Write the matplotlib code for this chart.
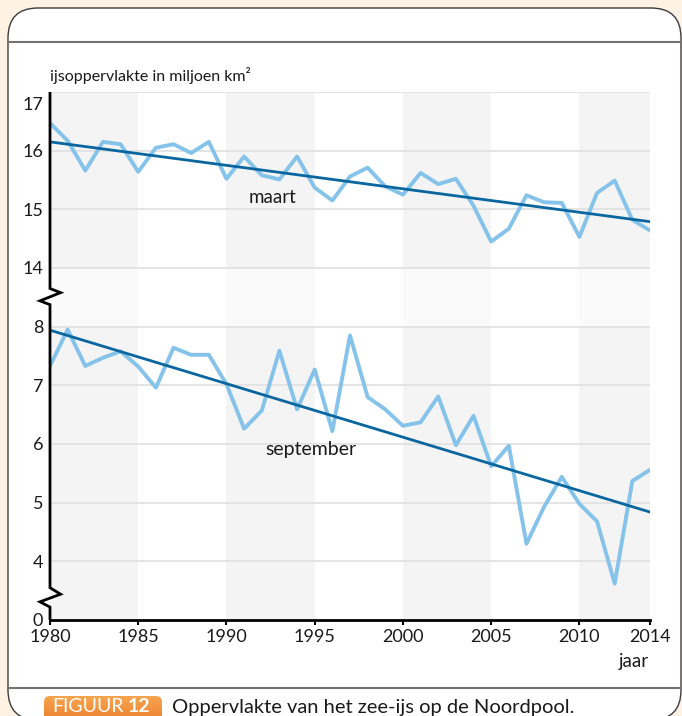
import numpy as np
import matplotlib
matplotlib.use('Agg')
import matplotlib.pyplot as plt
from matplotlib.patches import FancyBboxPatch, Rectangle
from matplotlib.colors import LinearSegmentedColormap
from matplotlib.transforms import ScaledTranslation

plt.rcParams['font.family'] = ['Lato', 'DejaVu Sans']

# gegevens
jaren = list(range(1980, 2015))
maart = [16.47, 16.17, 15.66, 16.15, 16.11, 15.64, 16.05, 16.11, 15.96, 16.15,
         15.52, 15.90, 15.58, 15.51, 15.90, 15.37, 15.15, 15.56, 15.71, 15.39,
         15.25, 15.62, 15.43, 15.52, 15.06, 14.45, 14.67, 15.24, 15.12, 15.11,
         14.53, 15.28, 15.49, 14.82, 14.64]
september = [7.33, 7.95, 7.33, 7.47, 7.58, 7.32, 6.96, 7.64, 7.52, 7.52,
             7.02, 6.26, 6.57, 7.59, 6.59, 7.27, 6.22, 7.85, 6.80, 6.59,
             6.31, 6.37, 6.81, 5.98, 6.48, 5.62, 5.97, 4.30, 4.93, 5.44,
             4.98, 4.68, 3.62, 5.37, 5.56]
trend_jaren = [1980, 2014]
trend_maart = [16.15, 14.79]
trend_september = [7.94, 4.84]
x_ticks = [1980, 1985, 1990, 1995, 2000, 2005, 2010, 2014]
y_ticks = [0, 4, 5, 6, 7, 8, 14, 15, 16, 17]
grijze_banden = [(1980, 1985), (1990, 1995), (2000, 2005), (2010, 2014)]

lichtblauw = '#85c3ea'
donkerblauw = '#0a669e'
grijs = '#f4f4f4'
tekst = '#1a1a1a'


def naar_as(v):
    # gebroken y-as: 14..17 komt op 9..12, 0 komt op 3
    v = np.asarray(v, dtype=float)
    return np.where(v >= 14, v - 5, np.maximum(v, 3))


fig = plt.figure(figsize=(6.82, 7.16), dpi=100)
fig.patch.set_facecolor('#fdf2e4')

# achtergrond / kaart in pixelcoordinaten
bg = fig.add_axes([0, 0, 1, 1])
bg.set_xlim(0, 682)
bg.set_ylim(716, 0)
bg.axis('off')
kaart = FancyBboxPatch((8, 8), 673, 712, boxstyle='round,pad=0,rounding_size=30',
                       facecolor='white', edgecolor='#3c3c3c', linewidth=1.0, zorder=1)
bg.add_patch(kaart)
bg.plot([8, 682], [42, 42], color='#727272', lw=1.5, zorder=2)
bg.plot([8, 682], [688, 688], color='#727272', lw=1.5, zorder=2)

# label "FIGUUR 12"
badge = FancyBboxPatch((44, 696), 118, 30, boxstyle='round,pad=0,rounding_size=6',
                       facecolor='none', edgecolor='none', zorder=2)
bg.add_patch(badge)
cmap = LinearSegmentedColormap.from_list('oranje', ['#f6a54f', '#ec7a28'])
verloop = np.linspace(0, 1, 50).reshape(-1, 1)
im = bg.imshow(verloop, cmap=cmap, extent=[44, 162, 726, 696], aspect='auto', zorder=3)
im.set_clip_path(badge)
bg.set_xlim(0, 682)
bg.set_ylim(716, 0)
bg.text(52, 707, 'FIGUUR', color='white', fontsize=14, va='center',
        fontweight='normal', zorder=4)
bg.text(128, 707, '12', color='white', fontsize=14, va='center',
        fontweight='bold', zorder=4)
bg.text(172, 707, 'Oppervlakte van het zee-ijs op de Noordpool.', fontsize=14.5,
        va='center', color=tekst, zorder=4)

# as-titels
bg.text(50, 76, 'ijsoppervlakte in miljoen km²', fontsize=11.5, va='center',
        color=tekst, zorder=4)
bg.text(649, 662, 'jaar', fontsize=13.5, va='center', ha='right', color=tekst, zorder=4)

# grafiek
ax = fig.add_axes([50 / 682, 96 / 716, 600 / 682, 528 / 716])
ax.set_facecolor('none')
ax.set_xlim(1980, 2014)
ax.set_ylim(3, 12)

for x0, x1 in grijze_banden:
    ax.add_patch(Rectangle((x0, 3), x1 - x0, 5, color=grijs, lw=0, zorder=0))
    ax.add_patch(Rectangle((x0, 8), x1 - x0, 1, color='#fafafa', lw=0, zorder=0))
    ax.add_patch(Rectangle((x0, 9), x1 - x0, 3, color=grijs, lw=0, zorder=0))

ax.hlines(naar_as(y_ticks[1:]), 1980, 2014, color='#e2e2e2', lw=1.3, zorder=1)

ax.plot(jaren, naar_as(maart), color=lichtblauw, lw=2.8, zorder=3)
ax.plot(jaren, naar_as(september), color=lichtblauw, lw=2.8, zorder=3)
ax.plot(trend_jaren, naar_as(trend_maart), color=donkerblauw, lw=2.0, zorder=4)
ax.plot(trend_jaren, naar_as(trend_september), color=donkerblauw, lw=2.0, zorder=4)

ax.text(1992.6, naar_as(15.2), 'maart', fontsize=13.5, ha='center', va='center', color=tekst)
ax.text(1994.8, naar_as(5.9), 'september', fontsize=14, ha='center', va='center', color=tekst)

# assen
for s in ['left', 'top', 'right']:
    ax.spines[s].set_visible(False)
ax.spines['bottom'].set_linewidth(2.0)
ax.spines['bottom'].set_zorder(5)

# linker as met zigzag op de breuken
zx = [1980, 1980, 1980.6, 1979.43, 1980, 1980, 1980.6, 1979.43, 1980, 1980]
zy = [12, 8.65, 8.58, 8.44, 8.375, 3.55, 3.44, 3.31, 3.22, 3]
ax.plot(zx, zy, color='black', lw=2.0, clip_on=False, zorder=6,
        solid_joinstyle='miter', solid_capstyle='butt')

ax.set_xticks(x_ticks)
ax.set_xticklabels([str(j) for j in x_ticks])
ax.set_yticks(naar_as(y_ticks))
ax.set_yticklabels([str(v) for v in y_ticks])
ax.tick_params(axis='x', length=3.5, width=1.5, pad=3, labelsize=13, colors='black',
               labelcolor=tekst)
ax.tick_params(axis='y', length=0, pad=5, labelsize=13, labelcolor=tekst)
# label 17 iets lager, zoals in het origineel
lab17 = ax.get_yticklabels()[-1]
lab17.set_transform(lab17.get_transform() + ScaledTranslation(0, -8 / 72, fig.dpi_scale_trans))

fig.savefig('out.png', dpi=100, facecolor=fig.get_facecolor())
